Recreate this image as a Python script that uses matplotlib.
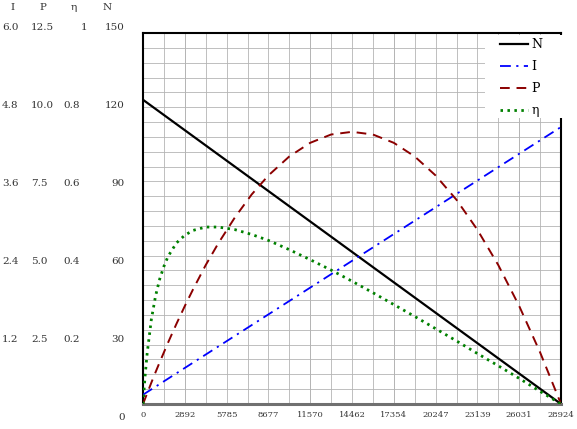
import matplotlib
matplotlib.use("Agg")
import matplotlib.pyplot as plt
from matplotlib.lines import Line2D
from matplotlib.patches import Rectangle
import numpy as np

# ---- data ----
torque = [0, 145, 289, 578, 868, 1157, 1446, 1735, 2314, 2892, 3471, 4339, 5206,
          6363, 7520, 8677, 10123, 11570, 13016, 14462, 15908, 17354, 18801,
          20247, 21693, 23139, 24585, 26032, 27478, 28924]
power = [0.00, 0.18, 0.36, 0.72, 1.07, 1.41, 1.74, 2.07, 2.70, 3.30, 3.87, 4.68,
         5.41, 6.29, 7.06, 7.70, 8.34, 8.80, 9.08, 9.17, 9.08, 8.80, 8.34, 7.70,
         6.88, 5.87, 4.68, 3.30, 1.74, 0.00]
eff = [0.000, 0.076, 0.137, 0.228, 0.291, 0.337, 0.371, 0.398, 0.434, 0.455,
       0.468, 0.477, 0.477, 0.470, 0.457, 0.441, 0.416, 0.389, 0.361, 0.331,
       0.300, 0.268, 0.236, 0.203, 0.170, 0.136, 0.103, 0.069, 0.034, 0.000]
line_torque = [0, 28924]
speed = [123, 0]
current = [0.15, 4.48]

x_ticks = [0, 2892, 5785, 8677, 11570, 14462, 17354, 20247, 23139, 26031, 28924]
x_tick_labels = ["0", "2892", "5785", "8677", "11570", "14462", "17354",
                 "20247", "23139", "26031", "28924"]
n_labels = ["0", "30", "60", "90", "120", "150"]
i_labels = ["", "1.2", "2.4", "3.6", "4.8", "6.0"]
p_labels = ["", "2.5", "5.0", "7.5", "10.0", "12.5"]
e_labels = ["", "0.2", "0.4", "0.6", "0.8", "1"]

W, H = 577, 429
fig = plt.figure(figsize=(W / 100, H / 100), dpi=100)
L, R, T, B = 143, 561, 33, 404
ax = fig.add_axes([L / W, 1 - B / H, (R - L) / W, (B - T) / H])
ax.set_xlim(0, 28924)
ax.set_ylim(0, 150)

def ax_x(px):
    return (px - L) / (R - L)

def ax_y(py):
    return (B - py) / (B - T)

# grid
ax.set_xticks(x_ticks)
ax.set_xticklabels(x_tick_labels, fontsize=6, family="DejaVu Serif", color="#333333")
ax.set_xticks(np.linspace(0, 28924, 21), minor=True)
ax.set_yticks(np.linspace(0, 150, 26), minor=True)
ax.set_yticks([])
ax.grid(which="both", color="#b4b4b4", lw=0.6)
ax.tick_params(which="both", length=0, pad=5)
ax.set_axisbelow(True)
for s in ["left", "top", "right"]:
    ax.spines[s].set_color("black")
    ax.spines[s].set_linewidth(1.5)
ax.spines["bottom"].set_color("#707070")
ax.spines["bottom"].set_linewidth(2.2)

axI = ax.twinx(); axI.set_ylim(0, 6)
axP = ax.twinx(); axP.set_ylim(0, 12.5)
axE = ax.twinx(); axE.set_ylim(0, 1)
for a in (axI, axP, axE):
    a.axis("off")

ax.plot(line_torque, speed, color="black", lw=1.6, zorder=3)
axI.plot(line_torque, current, color="#0000ff", lw=1.3, dashes=(6, 3, 1.2, 3))
axP.plot(torque, power, color="#8b0000", lw=1.4, dashes=(5, 3.5))
axE.plot(torque, eff, color="#008000", lw=2.0, dashes=(0.9, 1.6))

# white legend area
axE.add_patch(Rectangle((ax_x(485), ax_y(118)), ax_x(563) - ax_x(485),
                        ax_y(34.5) - ax_y(118), transform=axE.transAxes,
                        facecolor="white", edgecolor="none", zorder=4,
                        clip_on=False))

handles = [Line2D([], [], color="black", lw=1.6),
           Line2D([], [], color="#0000ff", lw=1.3, dashes=(6, 3, 1.2, 3)),
           Line2D([], [], color="#8b0000", lw=1.4, dashes=(5, 3.5)),
           Line2D([], [], color="#008000", lw=2.0, dashes=(0.9, 1.6))]
leg = axE.legend(handles, ["N", "I", "P", "η"], loc="upper left",
                 bbox_to_anchor=(ax_x(500), ax_y(38)), frameon=False,
                 prop={"family": "DejaVu Serif", "size": 9},
                 handlelength=2.25, labelspacing=0.72, handletextpad=0.25,
                 borderpad=0, borderaxespad=0)
leg.set_zorder(5)

# left label columns
def ypix(k):
    return 418 - k * 78

font = dict(family="DejaVu Serif", fontsize=7.5, color="#333333", va="center")
for k in range(6):
    y = 1 - ypix(k) / H
    fig.text(125 / W, y, n_labels[k], ha="right", **font)
    if k > 0:
        fig.text(2 / W, y, i_labels[k], ha="left", **font)
        fig.text(31 / W, y, p_labels[k], ha="left", **font)
        xe = 81 if e_labels[k] == "1" else 63
        fig.text(xe / W, y, e_labels[k], ha="left", **font)
for txt, xh in [("I", 13), ("P", 43), ("η", 74), ("N", 107)]:
    fig.text(xh / W, 1 - 8 / H, txt, ha="center", **font)

fig.savefig("out.png", dpi=100)
